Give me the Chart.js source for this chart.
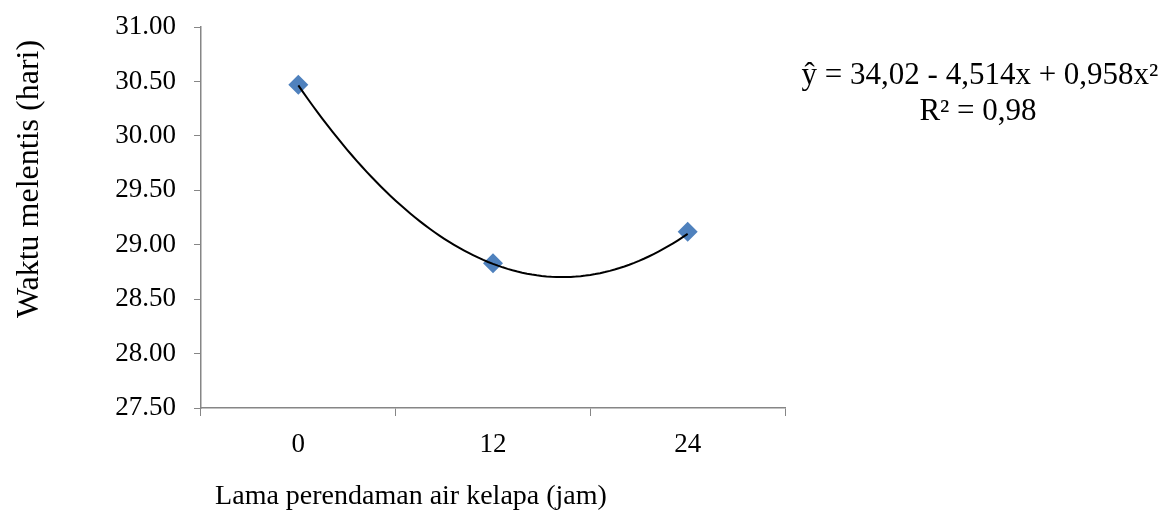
<!DOCTYPE html>
<html>
<head>
<meta charset="utf-8">
<script src="https://cdn.jsdelivr.net/npm/chart.js@4.4.1/dist/chart.umd.min.js"></script>
<style>
  html, body { margin: 0; padding: 0; background: #fff; }
  #wrap { width: 1169px; height: 513px; position: relative; }
</style>
</head>
<body>
<div id="wrap"><canvas id="chart"></canvas></div>
<script>
// data
const categories = ['0', '12', '24'];
const waktu = [30.47, 28.83, 29.12];
// polynomial trendline printed on the chart (x = 1, 2, 3)
const trendCoef = [34.02, -4.514, 0.958];
const eqLines = ['ŷ = 34,02 - 4,514x + 0,958x²', 'R² = 0,98'];
const yTitle = 'Waktu melentis (hari)';
const xTitle = 'Lama perendaman air kelapa (jam)';

const SERIF = "'Liberation Serif', 'Times New Roman', serif";
const AXIS = '#868686';

// =============== trendline + texts ===============
const extras = {
  id: 'extras',
  afterDatasetsDraw(chart) {
    const { ctx, scales: { x, y } } = chart;
    ctx.save();
    ctx.beginPath();
    const steps = 80;
    for (let i = 0; i <= steps; i++) {
      const xv = 1 + 2 * i / steps;
      const yv = trendCoef[0] + trendCoef[1] * xv + trendCoef[2] * xv * xv;
      const px = x.getPixelForValue(xv - 1);
      const py = y.getPixelForValue(yv);
      i === 0 ? ctx.moveTo(px, py) : ctx.lineTo(px, py);
    }
    ctx.strokeStyle = '#000';
    ctx.lineWidth = 2;
    ctx.stroke();
    ctx.restore();
  },
  afterDraw(chart) {
    const { ctx } = chart;
    ctx.save();
    ctx.fillStyle = '#000';
    ctx.textAlign = 'center';
    ctx.textBaseline = 'middle';
    ctx.font = `31px ${SERIF}`;
    ctx.fillText(eqLines[0], 980, 76);
    ctx.fillText(eqLines[1], 978, 112);
    ctx.font = `28px ${SERIF}`;
    ctx.fillText(xTitle, 411, 497);
    ctx.font = `32px ${SERIF}`;
    ctx.translate(30, 179);
    ctx.rotate(-Math.PI / 2);
    ctx.fillText(yTitle, 0, 0);
    ctx.restore();
  }
};

new Chart(document.getElementById('chart'), {
  type: 'line',
  data: {
    labels: categories,
    datasets: [{
      data: waktu,
      showLine: false,
      pointStyle: 'rectRot',
      pointRadius: 10,
      pointHoverRadius: 10,
      backgroundColor: '#4F81BD',
      borderColor: '#4F81BD',
      pointBorderWidth: 0
    }]
  },
  options: {
    responsive: true, maintainAspectRatio: false,
    animation: false,
    layout: { padding: { top: 27, right: 384, bottom: 0, left: 0 } },
    plugins: { legend: { display: false }, tooltip: { enabled: false } },
    scales: {
      x: {
        type: 'category',
        offset: true,
        afterFit: s => { s.height = 105; s.paddingLeft = 0; s.paddingRight = 0; },
        grid: { offset: true, drawOnChartArea: false, drawTicks: true, tickLength: 8, color: AXIS },
        border: { color: AXIS, width: 1.5 },
        ticks: { color: '#000', font: { family: SERIF, size: 27 }, padding: 13 }
      },
      y: {
        min: 27.5, max: 31,
        afterFit: s => { s.width = 201; s.paddingTop = 0; s.paddingBottom = 0; },
        grid: { drawOnChartArea: false, drawTicks: true, tickLength: 7, color: AXIS },
        border: { color: AXIS, width: 1.5 },
        ticks: { stepSize: 0.5, color: '#000', font: { family: SERIF, size: 27 }, padding: 18, callback: v => v.toFixed(2) }
      }
    }
  },
  plugins: [extras]
});
</script>
</body>
</html>
